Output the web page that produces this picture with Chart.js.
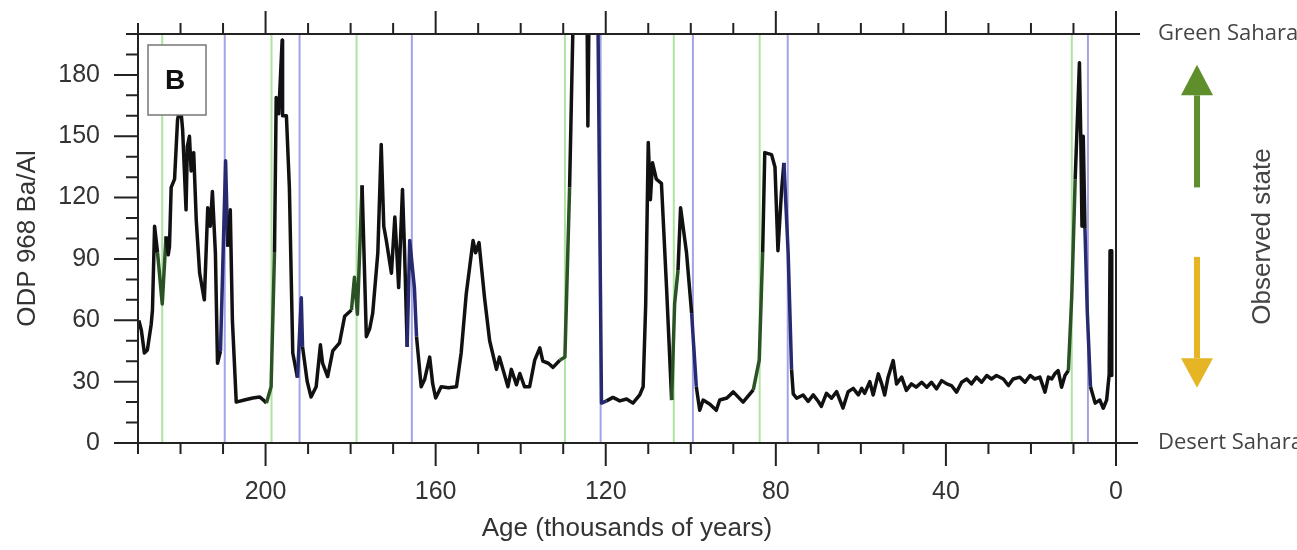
<!DOCTYPE html>
<html>
<head>
<meta charset="utf-8">
<title>ODP 968 Ba/Al</title>
<script src="https://cdn.jsdelivr.net/npm/chart.js@4.4.1/dist/chart.umd.min.js"></script>
<style>
  html, body { margin: 0; padding: 0; background: #fff; }
</style>
</head>
<body>
<canvas id="chart" width="1297" height="550"></canvas>
<script>
// Ba/Al record (age in kyr BP, oldest first)
const ages = [
  229.8, 229.2, 228.5, 227.8, 226.9, 226.6, 226.1, 225.4, 224.3, 223.4,
  222.9, 222.6, 222.2, 221.4, 220.7, 220.0, 219.5, 218.7, 218.4, 217.9,
  217.5, 216.9, 216.3, 215.5, 214.4, 213.6, 213.0, 212.5, 211.8, 211.3,
  210.6, 209.4, 208.9, 208.3, 207.8, 206.9, 205.0, 203.0, 201.4, 200.5,
  199.8, 198.7, 197.9, 197.5, 196.9, 196.1, 196.0, 195.1, 194.4, 193.6,
  192.5, 191.6, 191.3, 190.2, 189.3, 188.1, 187.1, 186.6, 185.4, 184.2,
  182.6, 181.4, 179.8, 179.1, 178.4, 177.3, 176.3, 175.5, 174.8, 173.6,
  172.8, 172.2, 171.6, 170.4, 169.6, 169.2, 168.7, 167.8, 167.3, 166.7,
  166.1, 165.0, 164.5, 163.4, 162.6, 161.4, 160.7, 160.0, 158.7, 157.0,
  155.1, 154.0, 152.8, 151.2, 150.6, 149.8, 148.5, 147.3, 145.7, 145.0,
  143.0, 142.2, 141.0, 140.2, 139.1, 137.9, 136.7, 135.5, 134.8, 133.5,
  132.4, 130.8, 129.6, 128.5, 127.7, 127.3, 124.5, 124.2, 123.8, 122.3,
  121.8, 121.0, 119.8, 118.3, 116.7, 115.1, 113.6, 112.0, 111.2, 110.6,
  110.0, 109.5, 109.0, 108.1, 106.9, 105.7, 104.5, 103.8, 103.0, 102.4,
  101.0, 99.8, 98.7, 97.9, 97.1, 95.5, 94.0, 93.2, 91.5, 90.0,
  87.7, 85.3, 83.9, 83.1, 82.6, 81.0, 80.2, 79.5, 78.7, 78.1,
  77.1, 76.3, 75.9, 75.1, 73.6, 72.4, 71.2, 70.0, 69.3, 68.1,
  66.9, 65.7, 64.2, 63.0, 61.8, 60.6, 59.8, 59.1, 57.9, 57.1,
  55.9, 55.1, 54.4, 53.6, 52.4, 51.6, 50.4, 49.3, 48.1, 47.0,
  45.7, 44.5, 43.4, 42.2, 41.0, 39.8, 38.7, 37.5, 36.3, 35.1,
  34.0, 32.8, 31.6, 30.4, 29.3, 28.1, 26.5, 25.3, 24.2, 22.6,
  21.4, 20.2, 19.1, 17.9, 16.7, 15.9, 15.1, 14.4, 13.6, 12.8,
  12.0, 11.2, 10.4, 9.6, 9.1, 8.6, 8.3, 8.0, 7.7, 7.3,
  6.75, 6.0, 4.9, 3.8, 3.0, 2.2, 1.6, 1.4, 1.1, 1.0
];
const baAl = [
  60, 55, 44, 45.5, 58, 65, 106, 93, 68, 101,
  92, 96, 125, 129, 158, 165, 153, 114, 145, 150,
  133, 142, 109, 83, 70, 115, 106, 123, 93, 39,
  45, 138, 96, 114, 60, 20, 21, 22, 22.5, 21,
  19.5, 27.5, 93, 169, 161, 197, 160, 160, 125, 44,
  32, 71, 47, 30, 22.5, 27.5, 48, 39, 32.5, 45,
  49, 62, 65, 81, 63, 126, 52, 56, 63.5, 93,
  146, 106, 99, 83, 110.5, 96, 76, 124, 93, 47,
  99, 76, 52, 27.5, 31, 42, 29, 22, 27.5, 27,
  27.5, 44, 73, 99, 93, 98, 71, 50, 36, 42,
  27.5, 36, 28.5, 34, 27.5, 27.5, 40.5, 46.5, 40, 39,
  37, 40.5, 42, 125, 205, 240, 240, 155, 240, 240,
  200, 19.5, 20.6, 22.3, 20.6, 21.5, 19.5, 23.5, 27.5, 68,
  147, 119, 137, 129, 127, 76, 21, 68, 84.6, 115,
  93, 63.5, 27.5, 16, 21, 19, 16, 21, 22, 25,
  20, 26, 40.5, 93, 142, 141, 135, 94, 122, 137,
  93, 36, 24, 21.9, 23.5, 20.3, 23.5, 20.3, 17.9, 24.3,
  21.9, 25.1, 17.1, 25.1, 26.7, 23.5, 26.7, 24.3, 30, 23.5,
  33.8, 28.9, 23.5, 32.2, 40.3, 28.9, 32.2, 25.7, 28.9, 27.3,
  29.7, 27.3, 29.7, 26.5, 30.5, 28.9, 28.1, 24.9, 29.7, 31.3,
  28.9, 32.2, 29.7, 33, 31.3, 33, 31.3, 28.1, 31.3, 32.2,
  29.7, 33, 31.3, 32.2, 24.9, 32.2, 31.3, 33.8, 35.4, 27.3,
  33, 35.4, 72, 129, 157, 186, 152, 106, 150, 104.7,
  64, 27.5, 19.5, 21, 17, 21, 33.6, 94, 94, 33
];

// onset (green) and termination (blue) of humid periods, kyr BP
const greenOnsets = [224.3, 198.6, 178.6, 129.6, 104.0, 83.8, 10.4];
const blueEnds = [209.6, 192.0, 165.6, 121.2, 99.5, 77.2, 6.6];

// axes
const xMin = 0, xMax = 230, xMinorStep = 10, xMajorStep = 40;
const yMin = 0, yMax = 200, yMinorStep = 10, yMajorStep = 30;

const FONT = '"Liberation Sans", Arial, sans-serif';
const INK = '#333';

function verticalLines(list) {
    const pts = [];
    list.forEach(a => {
        pts.push({ x: a, y: yMin }, { x: a, y: yMax }, { x: a, y: null });
    });
    return pts;
}

function nearAny(list, a, w) {
    return list.some(v => Math.abs(a - v) < w);
}

// frame, ticks, panel label and the state arrows on the right
const decorations = {
    id: 'decorations',
    afterDraw(chart) {
        const { ctx, chartArea: { left, right, top, bottom }, scales: { x, y } } = chart;
        ctx.save();

        ctx.strokeStyle = '#222';
        ctx.lineWidth = 2;
        ctx.beginPath();
        ctx.moveTo(left, top); ctx.lineTo(right + 24, top);
        ctx.moveTo(left, bottom); ctx.lineTo(right + 22, bottom);
        ctx.moveTo(left, top); ctx.lineTo(left, bottom);
        ctx.moveTo(right, top); ctx.lineTo(right, bottom);
        for (let a = xMin; a <= xMax; a += xMinorStep) {
            const px = x.getPixelForValue(a);
            const len = a % xMajorStep === 0 ? 23 : 11;
            ctx.moveTo(px, bottom); ctx.lineTo(px, bottom + len);
            ctx.moveTo(px, top); ctx.lineTo(px, top - len);
        }
        for (let v = yMin; v <= yMax; v += yMinorStep) {
            const py = y.getPixelForValue(v);
            const len = v % yMajorStep === 0 ? 24 : 12;
            ctx.moveTo(left, py); ctx.lineTo(left - len, py);
        }
        ctx.stroke();

        // panel label
        ctx.fillStyle = '#fff';
        ctx.strokeStyle = '#777';
        ctx.lineWidth = 1.5;
        ctx.fillRect(left + 10, top + 11, 58, 70);
        ctx.strokeRect(left + 10, top + 11, 58, 70);
        ctx.fillStyle = '#111';
        ctx.font = 'bold 28px ' + FONT;
        ctx.textAlign = 'center';
        ctx.textBaseline = 'middle';
        ctx.fillText('B', left + 37, top + 47);

        // state labels
        ctx.fillStyle = '#444';
        ctx.font = '22px "Open Sans", sans-serif';
        ctx.textAlign = 'left';
        ctx.fillText('Green Sahara', right + 42, top);
        ctx.fillText('Desert Sahara', right + 42, bottom);

        const ax = right + 81;
        function arrow(from, base, tip, color) {
            const y0 = y.getPixelForValue(from);
            const y1 = y.getPixelForValue(base);
            const y2 = y.getPixelForValue(tip);
            ctx.strokeStyle = color;
            ctx.fillStyle = color;
            ctx.lineWidth = 6;
            ctx.beginPath();
            ctx.moveTo(ax, y0); ctx.lineTo(ax, y1);
            ctx.stroke();
            ctx.beginPath();
            ctx.moveTo(ax - 16, y1); ctx.lineTo(ax + 16, y1); ctx.lineTo(ax, y2);
            ctx.closePath();
            ctx.fill();
        }
        arrow(125, 170, 185, '#5e8f2c');
        arrow(91, 41.5, 27, '#e6b526');

        ctx.fillStyle = '#444';
        ctx.font = '26px ' + FONT;
        ctx.translate(right + 147, (top + bottom) / 2 - 2);
        ctx.rotate(-Math.PI / 2);
        ctx.textAlign = 'center';
        ctx.fillText('Observed state', 0, 0);
        ctx.restore();
    }
};

new Chart(document.getElementById('chart'), {
    type: 'line',
    data: {
        datasets: [
            {
                data: ages.map((a, i) => ({ x: a, y: baAl[i] })),
                borderColor: '#111',
                borderWidth: 3.5,
                borderJoinStyle: 'round',
                pointRadius: 0,
                tension: 0,
                segment: {
                    borderColor: c => {
                        const a = (c.p0.parsed.x + c.p1.parsed.x) / 2;
                        if (nearAny(greenOnsets, a, 0.9)) return '#2b5224';
                        if (nearAny(blueEnds, a, 0.9)) return '#272a70';
                        return undefined;
                    }
                }
            },
            {
                data: verticalLines(greenOnsets),
                borderColor: '#aee3a2',
                borderWidth: 2,
                pointRadius: 0
            },
            {
                data: verticalLines(blueEnds),
                borderColor: '#a3a3ea',
                borderWidth: 2,
                pointRadius: 0
            }
        ]
    },
    options: {
        responsive: false,
        animation: false,
        layout: { padding: { left: 0, right: 181, top: 34, bottom: 0 } },
        plugins: { legend: { display: false }, tooltip: { enabled: false } },
        scales: {
            x: {
                type: 'linear',
                reverse: true,
                min: xMin,
                max: xMax,
                afterFit: s => { s.height = 107; },
                border: { display: false },
                grid: { drawOnChartArea: false, tickLength: 24, tickColor: 'transparent' },
                ticks: {
                    stepSize: xMinorStep,
                    autoSkip: false,
                    maxRotation: 0,
                    padding: 10,
                    color: INK,
                    font: { family: FONT, size: 25 },
                    callback: v => (v % xMajorStep === 0 ? v : '')
                },
                title: {
                    display: true,
                    text: 'Age (thousands of years)',
                    color: INK,
                    font: { family: FONT, size: 26 },
                    padding: { top: 0, bottom: 6 }
                }
            },
            y: {
                min: yMin,
                max: yMax,
                afterFit: s => { s.width = 138; },
                border: { display: false },
                grid: { drawOnChartArea: false, tickLength: 24, tickColor: 'transparent' },
                ticks: {
                    stepSize: yMinorStep,
                    autoSkip: false,
                    padding: 14,
                    color: INK,
                    font: { family: FONT, size: 25 },
                    callback: v => (v % yMajorStep === 0 ? v : '')
                },
                title: {
                    display: true,
                    text: 'ODP 968 Ba/Al',
                    color: INK,
                    font: { family: FONT, size: 26 },
                    padding: { top: 12, bottom: 0 }
                }
            }
        }
    },
    plugins: [decorations]
});
</script>
</body>
</html>
